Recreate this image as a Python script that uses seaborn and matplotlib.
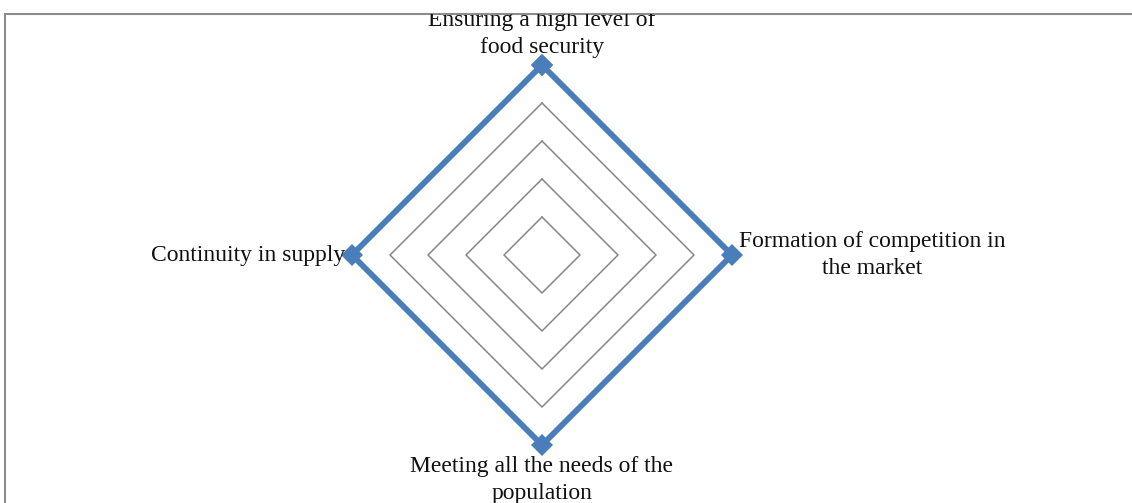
import numpy as np
import pandas as pd
import matplotlib.pyplot as plt
import seaborn as sns

sns.set_theme(style="white")
plt.rcParams["font.family"] = ["Liberation Serif", "DejaVu Serif"]

# radar data
categories = ["Ensuring a high level of\nfood security",
              "Formation of competition in\nthe market",
              "Meeting all the needs of the\npopulation",
              "Continuity in supply"]
values = [5, 5, 5, 5]
grid_levels = [1, 2, 3, 4, 5]

n = len(categories)
theta = np.pi / 2 - np.arange(n) * 2 * np.pi / n
closed = np.append(theta, theta[0])

fig = plt.figure(figsize=(11.32, 5.03), dpi=100)
ax = fig.add_axes([5 / 1132, -0.01, 1.0, (503 - 14) / 503 + 0.01])

# grid diamonds
for lv in grid_levels:
    ax.plot(lv * np.cos(closed), lv * np.sin(closed), color="#868686", lw=1.1, zorder=1)

r = np.append(values, values[0])
df = pd.DataFrame({"x": r * np.cos(closed), "y": r * np.sin(closed)})
sns.lineplot(data=df, x="x", y="y", sort=False, estimator=None, color="#4a7ebb", lw=4.2,
             marker="D", markersize=11, markeredgewidth=0, ax=ax, zorder=3)

# axis labels
offsets = [(0, 7, "center", "bottom"), (7, 0, "left", "center"),
           (0, -11, "center", "top"), (-7, 0, "right", "center")]
for lab, v, t, (dx, dy, ha, va) in zip(categories, values, theta, offsets):
    ax.annotate(lab, (v * np.cos(t), v * np.sin(t)), xytext=(dx, dy),
                textcoords="offset pixels", ha=ha, va=va, multialignment="center",
                fontsize=17, color="#111111", linespacing=1.35,
                annotation_clip=False, clip_on=True)

unit = 38.0
ax.set_xlim((5 - 542) / unit, (5 - 542) / unit + 1132 / unit)
ax.set_ylim((255 - 508) / unit, (255 - 14) / unit)
ax.set_xticks([])
ax.set_yticks([])
ax.set_xlabel("")
ax.set_ylabel("")
for side in ["right", "bottom"]:
    ax.spines[side].set_visible(False)
for side in ["left", "top"]:
    ax.spines[side].set_color("#8c8c8c")
    ax.spines[side].set_linewidth(1.5)

fig.savefig("out.png", dpi=100)
